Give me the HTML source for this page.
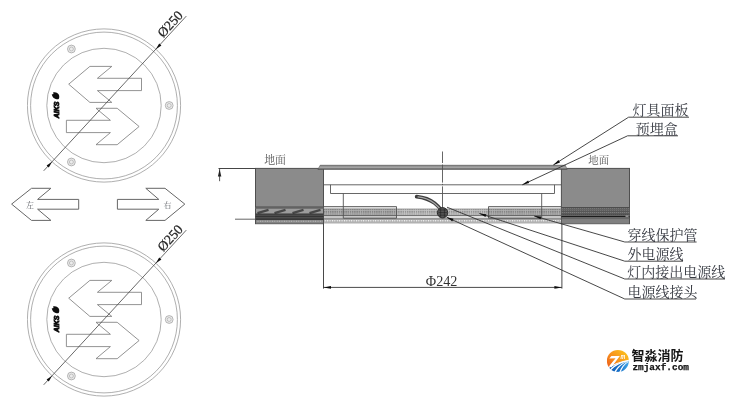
<!DOCTYPE html>
<html><head><meta charset="utf-8"><title>diagram</title>
<style>
html,body{margin:0;padding:0;background:#fff;}
body{width:732px;height:402px;overflow:hidden;font-family:"Liberation Sans",sans-serif;}
svg{display:block;}
</style></head><body>
<svg width="732" height="402" viewBox="0 0 732 402">
<defs><filter id="soft" x="0" y="0" width="732" height="402" filterUnits="userSpaceOnUse"><feGaussianBlur stdDeviation="0.4"/></filter></defs>
<rect width="732" height="402" fill="#fff"/>
<g filter="url(#soft)">
<g fill="none" stroke="#949494" stroke-width="0.75">
<circle cx="104.0" cy="105.5" r="76.6"/>
<circle cx="104.0" cy="105.5" r="73.4"/>
<circle cx="104.0" cy="105.5" r="57.2"/>
<circle cx="169.2" cy="105.5" r="3.9" fill="#ececec" stroke="#a0a0a0"/>
<circle cx="169.2" cy="105.5" r="2.0" stroke="#b0b0b0"/>
<circle cx="71.4" cy="162.0" r="3.9" fill="#ececec" stroke="#a0a0a0"/>
<circle cx="71.4" cy="162.0" r="2.0" stroke="#b0b0b0"/>
<circle cx="71.4" cy="49.0" r="3.9" fill="#ececec" stroke="#a0a0a0"/>
<circle cx="71.4" cy="49.0" r="2.0" stroke="#b0b0b0"/>
</g>
<polygon points="68.7,84.2 89.9,66.4 111.8,66.4 97.4,78.3 141.5,78.3 141.5,90.6 97.4,90.6 111.8,102.4 89.9,102.4" fill="none" stroke="#777" stroke-width="0.8"/>
<polygon points="139.1,126.5 117.2,108.3 96.0,108.3 110.4,120.3 66.4,120.3 66.4,132.6 110.4,132.6 96.0,144.7 117.2,144.7" fill="none" stroke="#777" stroke-width="0.8"/>
<line x1="43.7" y1="170.8" x2="186.3" y2="16.1" stroke="#444" stroke-width="0.8"/>
<polygon points="155.9,49.2 161.4,45.4 159.2,43.4" fill="#111"/>
<polygon points="52.1,161.8 46.6,165.6 48.8,167.6" fill="#111"/>
<text transform="translate(163.2 38.2) rotate(-47.3)" x="0" y="0" font-family="'Liberation Serif',serif" font-size="13.6" fill="#222" stroke="#222" stroke-width="0.25">Ø250</text>
<g transform="translate(58.6 118.2) rotate(-90)" fill="#111">
<text x="0" y="0" font-family="'Liberation Sans',sans-serif" font-size="6.4" font-weight="bold" font-style="italic" textLength="16.5" lengthAdjust="spacingAndGlyphs" stroke="#111" stroke-width="0.8">AIKS</text>
<path d="M19 -0.5 C19 -4 21 -6.5 24 -6.8 C23.4 -5.4 24.6 -4.6 25.8 -5.6 C26.6 -3.4 25.6 0.2 22.4 0.6 C20.4 0.8 19 0.4 19 -0.5Z"/>
</g>
<g fill="none" stroke="#949494" stroke-width="0.75">
<circle cx="104.0" cy="319.5" r="76.6"/>
<circle cx="104.0" cy="319.5" r="73.4"/>
<circle cx="104.0" cy="319.5" r="57.2"/>
<circle cx="169.2" cy="319.5" r="3.9" fill="#ececec" stroke="#a0a0a0"/>
<circle cx="169.2" cy="319.5" r="2.0" stroke="#b0b0b0"/>
<circle cx="71.4" cy="376.0" r="3.9" fill="#ececec" stroke="#a0a0a0"/>
<circle cx="71.4" cy="376.0" r="2.0" stroke="#b0b0b0"/>
<circle cx="71.4" cy="263.0" r="3.9" fill="#ececec" stroke="#a0a0a0"/>
<circle cx="71.4" cy="263.0" r="2.0" stroke="#b0b0b0"/>
</g>
<polygon points="68.7,298.2 89.9,280.4 111.8,280.4 97.4,292.3 141.5,292.3 141.5,304.6 97.4,304.6 111.8,316.4 89.9,316.4" fill="none" stroke="#777" stroke-width="0.8"/>
<polygon points="139.1,340.5 117.2,322.3 96.0,322.3 110.4,334.3 66.4,334.3 66.4,346.6 110.4,346.6 96.0,358.7 117.2,358.7" fill="none" stroke="#777" stroke-width="0.8"/>
<line x1="43.7" y1="384.8" x2="186.3" y2="230.1" stroke="#444" stroke-width="0.8"/>
<polygon points="155.9,263.2 161.4,259.4 159.2,257.4" fill="#111"/>
<polygon points="52.1,375.8 46.6,379.6 48.8,381.6" fill="#111"/>
<text transform="translate(163.2 252.2) rotate(-47.3)" x="0" y="0" font-family="'Liberation Serif',serif" font-size="13.6" fill="#222" stroke="#222" stroke-width="0.25">Ø250</text>
<g transform="translate(58.6 332.2) rotate(-90)" fill="#111">
<text x="0" y="0" font-family="'Liberation Sans',sans-serif" font-size="6.4" font-weight="bold" font-style="italic" textLength="16.5" lengthAdjust="spacingAndGlyphs" stroke="#111" stroke-width="0.8">AIKS</text>
<path d="M19 -0.5 C19 -4 21 -6.5 24 -6.8 C23.4 -5.4 24.6 -4.6 25.8 -5.6 C26.6 -3.4 25.6 0.2 22.4 0.6 C20.4 0.8 19 0.4 19 -0.5Z"/>
</g>
<polygon points="11.6,204.1 31.5,188.3 50.9,188.3 37.6,199.4 78.7,199.4 78.7,209.2 37.6,209.2 50.9,220.4 31.5,220.4" fill="none" stroke="#666" stroke-width="1"/>
<polygon points="184.8,204.1 165.0,188.3 145.8,188.3 158.8,199.4 117.4,199.4 117.4,209.2 158.8,209.2 145.8,220.4 165.0,220.4" fill="none" stroke="#666" stroke-width="1"/>
<text x="29.9" y="207.7" text-anchor="middle" font-family="'Liberation Serif','Noto Serif CJK SC',serif" font-size="8" fill="#606468">左</text>
<text x="167.5" y="207.7" text-anchor="middle" font-family="'Liberation Serif','Noto Serif CJK SC',serif" font-size="8" fill="#606468">右</text>
<defs>
<linearGradient id="pg" x1="0" y1="0" x2="0" y2="1"><stop offset="0" stop-color="#5a5a5a"/><stop offset="0.45" stop-color="#b4b4b4"/><stop offset="1" stop-color="#4e4e4e"/></linearGradient>
<pattern id="dots" width="2.2" height="1.7" patternUnits="userSpaceOnUse"><rect width="2.2" height="1.7" fill="#c4c4c4"/><rect width="1.4" height="0.85" fill="#7c7c7c"/></pattern>
<linearGradient id="lowg" x1="0" y1="0" x2="0" y2="1"><stop offset="0" stop-color="#9c9c9c"/><stop offset="0.6" stop-color="#a8a8a8"/><stop offset="1" stop-color="#bdbdbd"/></linearGradient>
<pattern id="dash2w" width="2.4" height="2" patternUnits="userSpaceOnUse"><rect x="0.6" width="1.3" height="2" fill="#f4f4f4"/></pattern>
<pattern id="dash" width="2.4" height="6" patternUnits="userSpaceOnUse"><rect width="2.4" height="6" fill="#8e8e8e"/><rect x="0.6" y="1.2" width="1.2" height="2.2" fill="#e8e8e8"/></pattern>
<pattern id="noise" width="3" height="3" patternUnits="userSpaceOnUse"><rect width="3" height="3" fill="#8b8b8b"/><rect width="1" height="1" fill="#858585"/><rect x="2" y="1" width="1" height="1" fill="#929292"/><rect x="1" y="2" width="1" height="1" fill="#878787"/></pattern>
<pattern id="dash2" width="2.4" height="2" patternUnits="userSpaceOnUse"><rect x="0.6" width="1.2" height="2" fill="#b4b4b4"/></pattern>
<pattern id="dk" width="2" height="2" patternUnits="userSpaceOnUse"><rect width="2" height="2" fill="#646464"/><rect width="1" height="1" fill="#7c7c7c"/></pattern>
</defs>
<rect x="323.5" y="209.2" width="237.9" height="5.2" fill="url(#dots)"/>
<rect x="323.5" y="215.8" width="237.9" height="2.4" fill="#dedede"/>
<rect x="323.5" y="218.6" width="237.9" height="5.0" fill="url(#lowg)"/>
<rect x="323.5" y="220.0" width="237.9" height="1.5" fill="url(#dash2w)"/>
<line x1="323.5" y1="209.0" x2="561.4" y2="209.0" stroke="#8a8a8a" stroke-width="0.8"/>
<line x1="323.5" y1="215.2" x2="561.4" y2="215.2" stroke="#484848" stroke-width="1.1"/>
<line x1="323.5" y1="218.5" x2="561.4" y2="218.5" stroke="#858585" stroke-width="0.8"/>
<rect x="323.5" y="206.6" width="73.0" height="11.6" fill="#000" opacity="0.10"/>
<rect x="488.5" y="206.6" width="72.9" height="11.6" fill="#000" opacity="0.10"/>
<rect x="255.5" y="168.4" width="68.0" height="55.3" fill="#8b8b8b" stroke="#505050" stroke-width="1"/>
<rect x="561.4" y="168.4" width="68.1" height="55.3" fill="#8b8b8b" stroke="#505050" stroke-width="1"/>
<rect x="255.5" y="207.0" width="68.0" height="2" fill="#6e6e6e"/>
<rect x="256.0" y="208.9" width="67.0" height="4.8" fill="#9c9c9c"/>
<rect x="255.5" y="213.6" width="68.0" height="5.8" fill="#505050"/>
<rect x="256.0" y="219.7" width="67.0" height="3.6" fill="#848484"/>
<rect x="256.5" y="220.6" width="66.0" height="1.4" fill="url(#dash2)"/>
<line x1="255.5" y1="206.9" x2="323.5" y2="206.9" stroke="#4a4a4a" stroke-width="0.8"/>
<line x1="255.5" y1="219.2" x2="323.5" y2="219.2" stroke="#1c1c1c" stroke-width="1"/>
<line x1="255.5" y1="216.4" x2="323.5" y2="216.4" stroke="#2c2c2c" stroke-width="0.8"/>
<line x1="255.5" y1="214.2" x2="323.5" y2="214.2" stroke="#333" stroke-width="0.8"/>
<line x1="257.5" y1="213.2" x2="268.5" y2="209.8" stroke="#333" stroke-width="2.4" opacity="0.8"/>
<line x1="274.5" y1="213.2" x2="285.5" y2="209.8" stroke="#333" stroke-width="2.4" opacity="0.8"/>
<line x1="292.5" y1="213.2" x2="303.5" y2="209.8" stroke="#333" stroke-width="2.4" opacity="0.8"/>
<line x1="309.5" y1="213.2" x2="320.5" y2="209.8" stroke="#333" stroke-width="2.4" opacity="0.8"/>
<rect x="561.4" y="207.4" width="68.1" height="9.4" fill="url(#dk)"/>
<rect x="561.9" y="217.2" width="67.1" height="6.2" fill="#808080"/>
<line x1="561.4" y1="207.6" x2="629.5" y2="207.6" stroke="#444" stroke-width="0.9"/>
<line x1="561.4" y1="211.2" x2="629.5" y2="211.2" stroke="#4c4c4c" stroke-width="0.7"/>
<line x1="561.4" y1="214.2" x2="629.5" y2="214.2" stroke="#3c3c3c" stroke-width="0.8"/>
<line x1="561.4" y1="216.6" x2="629.5" y2="216.6" stroke="#1c1c1c" stroke-width="1.2"/>
<line x1="561.4" y1="218.6" x2="629.5" y2="218.6" stroke="#5a5a5a" stroke-width="0.7"/>
<line x1="625.5" y1="216.2" x2="628.6" y2="216.2" stroke="#ddd" stroke-width="0.9"/>
<line x1="218.5" y1="168.5" x2="255.5" y2="168.5" stroke="#444" stroke-width="1"/>
<line x1="219.6" y1="168.5" x2="219.6" y2="181.2" stroke="#444" stroke-width="0.9"/>
<polygon points="219.6,169.2 217.9,176.4 221.3,176.4" fill="#222"/>
<line x1="235.0" y1="219.2" x2="255.5" y2="219.2" stroke="#555" stroke-width="0.9"/>
<polygon points="320.2,165.2 565.3,165.2 567.2,169.5 317.8,169.5" fill="url(#pg)" stroke="#555" stroke-width="0.5"/>
<line x1="323.5" y1="184.8" x2="561.4" y2="184.8" stroke="#555" stroke-width="0.9" fill="none"/>
<polyline points="330.5,184.8 330.5,193.5 554.5,193.5 554.5,184.8" stroke="#555" stroke-width="0.9" fill="none"/>
<line x1="343.3" y1="193.5" x2="343.3" y2="218.2" stroke="#555" stroke-width="0.9" fill="none"/>
<line x1="541.7" y1="193.5" x2="541.7" y2="218.2" stroke="#555" stroke-width="0.9" fill="none"/>
<polyline points="323.5,206.6 396.5,206.6 396.5,218.2 343.3,218.2" stroke="#555" stroke-width="0.9" fill="none"/>
<polyline points="561.4,206.6 488.5,206.6 488.5,218.2 541.7,218.2" stroke="#555" stroke-width="0.9" fill="none"/>
<line x1="442.5" y1="151.5" x2="442.5" y2="208" stroke="#555" stroke-width="0.9" stroke-dasharray="11.5 1.6 18 1.3 1.2 1.3 30"/>
<path d="M416.6 196.6 C424 197.4 430 199.6 434.6 203.2 C438 205.8 440 208.4 442.4 211.4" fill="none" stroke="#3c3c3c" stroke-width="3.6" stroke-linecap="round"/>
<path d="M418 196.9 C424 197.6 430 199.8 434.4 203.2 C437.6 205.8 439.6 208.2 441.6 210.6" fill="none" stroke="#a8a8a8" stroke-width="1.2" stroke-linecap="round"/>
<circle cx="442.6" cy="212.8" r="5.2" fill="#555" stroke="#2a2a2a" stroke-width="1"/>
<path d="M439 210h7M438.4 212.6h8.4M439 215.2h7M440.6 208.6v8.6M444.4 208.6v8.6" stroke="#222" stroke-width="0.6"/>
<line x1="323.5" y1="223.7" x2="323.5" y2="288.6" stroke="#333" stroke-width="0.9"/>
<line x1="561.9" y1="223.7" x2="561.9" y2="288.6" stroke="#333" stroke-width="0.9"/>
<line x1="323.5" y1="287.4" x2="561.9" y2="287.4" stroke="#333" stroke-width="0.9"/>
<polygon points="323.5,287.4 331.0,288.7 331.0,286.1" fill="#111"/>
<polygon points="561.9,287.4 554.4,286.1 554.4,288.7" fill="#111"/>
<text x="425.8" y="285.9" font-family="'Liberation Serif',serif" font-size="14.2" fill="#333">Φ242</text>
<polyline points="553.3,165.0 628.6,117.2 689.0,117.2" fill="none" stroke="#333" stroke-width="0.9"/>
<polygon points="553.3,165.0 560.0,162.4 558.5,160.1" fill="#111"/>
<polyline points="522.3,184.8 627.6,135.8 678.0,135.8" fill="none" stroke="#333" stroke-width="0.9"/>
<polygon points="522.3,184.8 529.2,183.1 528.1,180.6" fill="#111"/>
<text x="632.4" y="115.4" font-family="'Liberation Serif','Noto Serif CJK SC',serif" font-size="14" fill="#353840" textLength="56" lengthAdjust="spacing">灯具面板</text>
<text x="635.8" y="133.7" font-family="'Liberation Serif','Noto Serif CJK SC',serif" font-size="14" fill="#353840" textLength="42" lengthAdjust="spacing">预埋盒</text>
<polyline points="534.2,216.0 624.8,242.0 696.6,242.0" fill="none" stroke="#333" stroke-width="0.9"/>
<polygon points="534.2,216.0 540.5,219.3 541.3,216.6" fill="#111"/>
<polyline points="479.3,213.4 624.8,261.2 683.0,261.2" fill="none" stroke="#333" stroke-width="0.9"/>
<polygon points="479.3,213.4 485.5,216.9 486.4,214.3" fill="#111"/>
<polyline points="447.0,207.2 624.8,279.0 725.0,279.0" fill="none" stroke="#333" stroke-width="0.9"/>
<polyline points="446.6,217.2 624.8,299.0 696.0,299.0" fill="none" stroke="#333" stroke-width="0.9"/>
<polygon points="446.6,217.2 452.4,221.4 453.5,218.8" fill="#111"/>
<text x="627.4" y="240.2" font-family="'Liberation Serif','Noto Serif CJK SC',serif" font-size="14" fill="#353840" textLength="70" lengthAdjust="spacing">穿线保护管</text>
<text x="627.4" y="259.4" font-family="'Liberation Serif','Noto Serif CJK SC',serif" font-size="14" fill="#353840" textLength="56" lengthAdjust="spacing">外电源线</text>
<text x="627.2" y="277" font-family="'Liberation Serif','Noto Serif CJK SC',serif" font-size="14" fill="#353840" textLength="98" lengthAdjust="spacing">灯内接出电源线</text>
<text x="627.6" y="297.3" font-family="'Liberation Serif','Noto Serif CJK SC',serif" font-size="14" fill="#353840" textLength="70" lengthAdjust="spacing">电源线接头</text>
<text x="264.2" y="164.4" font-family="'Liberation Serif','Noto Serif CJK SC',serif" font-size="10.9" fill="#5a5a5a" textLength="21.8" lengthAdjust="spacing">地面</text>
<text x="588.3" y="164.2" font-family="'Liberation Serif','Noto Serif CJK SC',serif" font-size="10.4" fill="#5a5a5a" textLength="20.8" lengthAdjust="spacing">地面</text>
<defs><linearGradient id="og" x1="1" y1="0" x2="0" y2="1"><stop offset="0.1" stop-color="#fdc51a"/><stop offset="0.5" stop-color="#f7931c"/><stop offset="0.95" stop-color="#ea4e1b"/></linearGradient>
<linearGradient id="bg" x1="0" y1="0" x2="1" y2="0"><stop offset="0" stop-color="#0f56b0"/><stop offset="0.6" stop-color="#1a74cc"/><stop offset="1" stop-color="#48b0ea"/></linearGradient>
<clipPath id="lc"><circle cx="617.9" cy="360.9" r="11"/></clipPath></defs>
<g clip-path="url(#lc)">
<rect x="606" y="349" width="24" height="24" fill="url(#og)"/>
<path d="M606 369.2 C613 364.4 621 361.6 630 360.0 L630 373 L606 373Z" fill="url(#bg)" stroke="#fff" stroke-width="1.1"/>
<path d="M628.2 360.9 C621.6 362.8 617.2 366.4 614.4 371.8 L615.8 372.3 C618.4 367.2 622.2 363.6 628.2 361.5Z" fill="#fff"/>
<path d="M628.4 361.3 C624 363.6 621 367.2 619.2 372.4 L620.5 372.6 C622 368 624.6 364.4 628.4 361.9Z" fill="#fff"/>
<path d="M627.6 360.6 C619.8 361.9 614.2 364.8 610.0 369.4 L611.0 370.3 C615.0 366.0 620.4 363.0 627.6 361.2Z" fill="#fff"/>
<path d="M609.3 358.4 L611.4 356.1 H619.8 L611.3 367.4 L609.0 366.3 L615.6 358.2Z" fill="#fff"/>
<text transform="translate(620.6 359.1) scale(0.92 1.25)" x="0" y="0" font-family="'Liberation Sans',sans-serif" font-size="5.8" font-weight="bold" font-style="italic" fill="#fff">m</text>
</g>
<text x="631.4" y="359.7" font-family="'Liberation Sans','Noto Sans CJK SC',sans-serif" font-size="13" font-weight="bold" fill="#141414" textLength="52.2" lengthAdjust="spacing">智淼消防</text>
<text x="632.4" y="369.8" font-family="'Liberation Mono',monospace" font-size="9.4" font-weight="bold" fill="#141414" stroke="#141414" stroke-width="0.25" textLength="56.6" lengthAdjust="spacingAndGlyphs">zmjaxf.com</text>
</g>
</svg>
</body></html>
